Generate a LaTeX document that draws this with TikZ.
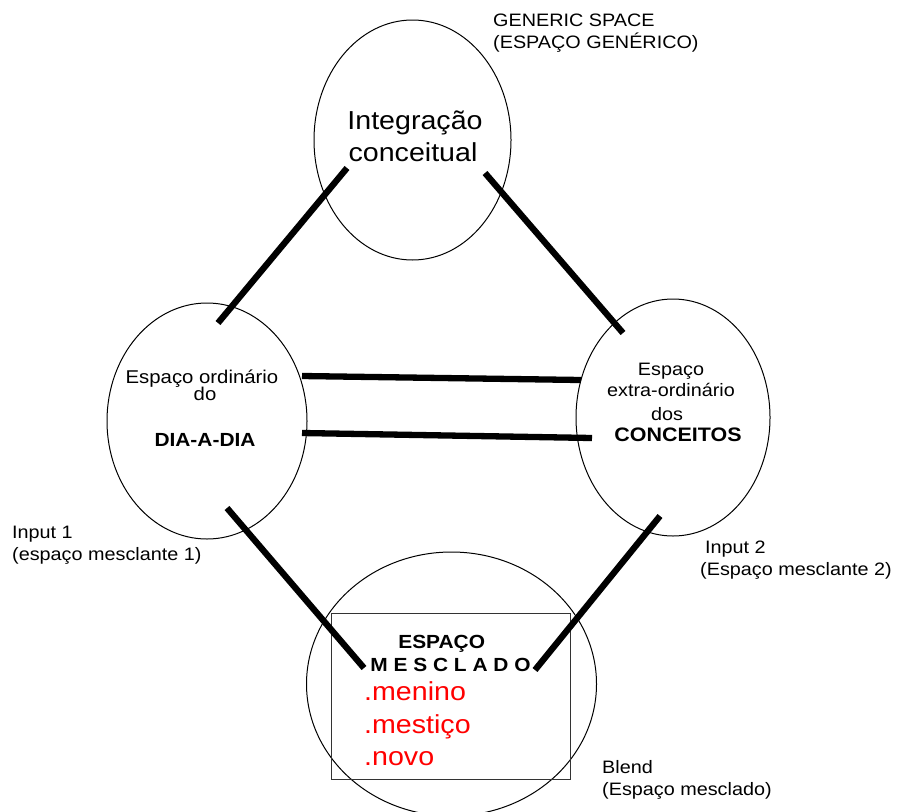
\documentclass[tikz,border=0pt]{standalone}
\usepackage{fontspec}
\setmainfont[FakeStretch=1.1]{Liberation Sans}
\usetikzlibrary{shapes.geometric}
\newcommand\setfs[1]{\fontsize{#1}{#1}\selectfont}
\begin{document}
\begin{tikzpicture}[x=1pt,y=-1pt,
  spacebox/.style={ellipse,draw,line width=1pt,inner sep=0pt},
  link/.style={line width=6.3pt,line cap=butt},
  lbl/.style={inner sep=0pt,anchor=base west,font=\setfs{18}},
  ctext/.style={inner sep=0pt,anchor=base},
  redtxt/.style={inner sep=0pt,anchor=base west,text=red,font=\setfs{26}}]
\useasboundingbox (0,0) rectangle (901,811);
% ellipses
\node[spacebox,minimum width=197pt,minimum height=240pt] (gen) at (412.5,140) {};
\node[spacebox,minimum width=200pt,minimum height=236pt] (inp1) at (207,421) {};
\node[spacebox,minimum width=194pt,minimum height=237pt] (inp2) at (673,417.5) {};
\node[spacebox,minimum width=290pt,minimum height=264pt] (blend) at (451.5,684) {};
\node[draw=black!80,line width=1pt,minimum width=239pt,minimum height=166pt,inner sep=0pt] (box) at (450.5,696) {};
% texts
\node[ctext,font=\setfs{26}] (t1) at (415,129.3) {Integração};
\node[ctext,font=\setfs{26}] (t2) at (413,161.7) {conceitual};
\node[ctext,font=\setfs{18.5}] (t3) at (202,383.3) {Espaço ordinário};
\node[ctext,font=\setfs{18.5}] (t4) at (205,400) {do};
\node[ctext,font=\bfseries\setfs{19}] (t5) at (205,446.7) {DIA-A-DIA};
\node[ctext,font=\setfs{18}] (t6) at (671,375.7) {Espaço};
\node[ctext,font=\setfs{18}] (t7) at (671,396) {extra-ordinário};
\node[ctext,font=\setfs{18}] (t8) at (667,420) {dos};
\node[ctext,font=\bfseries\setfs{19.5}] (t9) at (678,441.7) {CONCEITOS};
\node[ctext,font=\bfseries\setfs{19}] (t10) at (441.7,648.3) {ESPAÇO};
\node[ctext,font=\bfseries\setfs{19}] (t11) at (450.5,671) {M E S C L A D O};
\node[redtxt] (r1) at (364,700) {.menino};
\node[redtxt] (r2) at (364,733.3) {.mestiço};
\node[redtxt] (r3) at (364,765) {.novo};
\node[lbl] (g1) at (493,26) {GENERIC SPACE};
\node[lbl] (g2) at (493,48.3) {(ESPAÇO GENÉRICO)};
\node[lbl] (i1) at (12,538.3) {Input 1};
\node[lbl] (i1b) at (12,560) {(espaço mesclante 1)};
\node[lbl] (i2) at (705,553.3) {Input 2};
\node[lbl] (i2b) at (700,575.7) {(Espaço mesclante 2)};
\node[lbl] (b1) at (602,773.3) {Blend};
\node[lbl] (b2) at (602,795.7) {(Espaço mesclado)};
% connector ends
\coordinate (tlA) at (347,168); \coordinate (tlB) at (218,323);
\coordinate (trA) at (485,173); \coordinate (trB) at (623,333);
\coordinate (h1A) at (302,376); \coordinate (h1B) at (581,380);
\coordinate (h2A) at (302,433); \coordinate (h2B) at (592,438);
\coordinate (blA) at (227,508); \coordinate (blB) at (364,668);
\coordinate (brA) at (660,516); \coordinate (brB) at (535,670);
\draw[link] (tlA) -- (tlB);
\draw[link] (trA) -- (trB);
\draw[link] (h1A) -- (h1B);
\draw[link] (h2A) -- (h2B);
\draw[link] (blA) -- (blB);
\draw[link] (brA) -- (brB);
\end{tikzpicture}
\end{document}
